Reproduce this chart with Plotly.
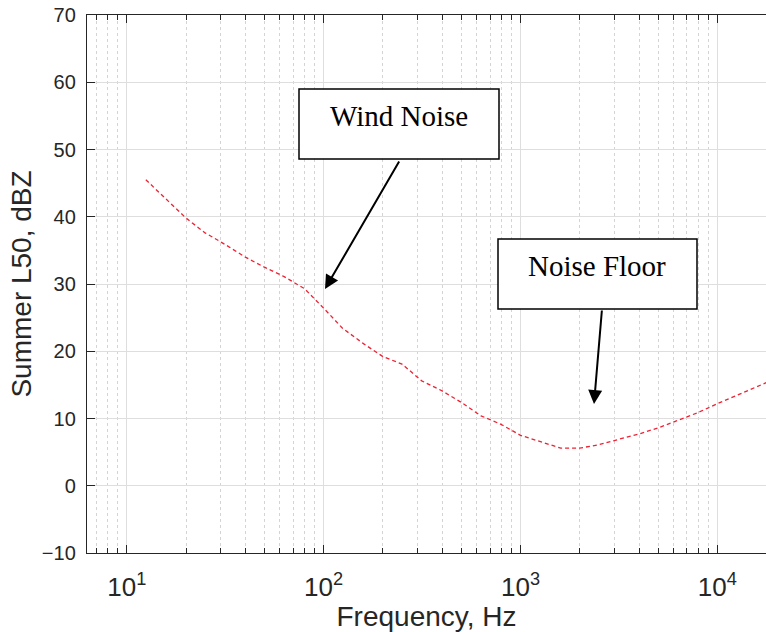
import plotly.graph_objects as go
import numpy as np

# Data (1/3-octave band centre frequencies, Hz) and Summer L50 levels (dBZ)
freq_hz = [12.5, 16, 20, 25, 31.5, 40, 50, 63, 80, 100, 125, 160, 200, 250, 315, 400,
           500, 630, 800, 1000, 1250, 1600, 2000, 2500, 3150, 4000, 5000, 6300, 8000,
           10000, 12500, 16000, 20000]
l50_dbz = [45.5, 42.5, 39.8, 37.6, 35.9, 34.0, 32.5, 31.1, 29.3, 26.4, 23.4, 21.1, 19.2,
           18.1, 15.6, 14.1, 12.4, 10.4, 9.1, 7.5, 6.6, 5.6, 5.6, 6.1, 6.9, 7.7, 8.6,
           9.7, 10.9, 12.2, 13.4, 14.7, 16.0]

x_major_ticks = [10, 100, 1000, 10000]
x_major_labels = ["10<sup>1</sup>", "10<sup>2</sup>", "10<sup>3</sup>", "10<sup>4</sup>"]
x_minor_ticks = [m * 10 ** e for e in range(0, 5) for m in range(2, 10)]

y_range = [-10, 70]
x_range_log = [0.798, 4.247]

W, H = 766, 632
L, R, T, B = 87, 0, 15, 79
pw, ph = W - L - R, H - T - B


def px(xp):
    return (xp - L) / pw


def py(yp):
    return (H - B - yp) / ph


fig = go.Figure()
fig.add_trace(go.Scatter(
    x=freq_hz, y=l50_dbz, mode="lines",
    line=dict(color="#ee2233", width=1.3, dash="4px,3px"),
    showlegend=False,
))

axis_col = "#262626"
fig.update_xaxes(
    type="log", range=x_range_log, automargin=False,
    tickmode="array", tickvals=x_major_ticks, ticktext=x_major_labels,
    ticks="inside", ticklen=8, tickwidth=1, tickcolor=axis_col,
    showline=True, linecolor=axis_col, linewidth=1.4, mirror="ticks",
    showgrid=True, gridcolor="#dedede", gridwidth=1,
    zeroline=False,
    tickfont=dict(family="Liberation Sans, Arial", size=26, color=axis_col),
    ticklabelstandoff=11,
    minor=dict(tickmode="array", tickvals=x_minor_ticks, ticks="inside", ticklen=5,
               tickcolor=axis_col, showgrid=True, gridcolor="#d4d4d4",
               griddash="dot", gridwidth=1),
    title=dict(text="Frequency, Hz", standoff=3,
               font=dict(family="Liberation Sans, Arial", size=28, color=axis_col)),
)
fig.update_yaxes(
    range=y_range, dtick=10, tick0=0, automargin=False,
    ticks="inside", ticklen=8, tickwidth=1, tickcolor=axis_col,
    showline=True, linecolor=axis_col, linewidth=1.4, mirror=False,
    showgrid=True, gridcolor="#dedede", gridwidth=1,
    zeroline=False,
    tickfont=dict(family="Liberation Sans, Arial", size=20, color=axis_col),
    ticklabelstandoff=6,
    title=dict(text="Summer L50, dBZ", standoff=2,
               font=dict(family="Liberation Sans, Arial", size=28, color=axis_col)),
)

# Text boxes
boxes = [
    (299, 89, 499, 159, "Wind Noise", 399, 116),
    (498, 239, 697, 309, "Noise Floor", 597, 266),
]
for x0, y0, x1, y1, txt, tx, ty in boxes:
    fig.add_shape(type="rect", xref="paper", yref="paper",
                  x0=px(x0), x1=px(x1), y0=py(y1), y1=py(y0),
                  line=dict(color="black", width=1.5), fillcolor="white", layer="above")
    fig.add_annotation(xref="paper", yref="paper", x=px(tx), y=py(ty),
                       text=txt, showarrow=False, xanchor="center", yanchor="middle",
                       font=dict(family="Liberation Serif, Times New Roman", size=29,
                                 color="black"))

# Arrows (head position, tail position in px)
arrows = [((325, 289), (400, 160)), ((594, 404), (602, 309))]
for (hx, hy), (tx, ty) in arrows:
    fig.add_annotation(xref="paper", yref="paper", x=px(hx), y=py(hy),
                       ax=tx - hx, ay=ty - hy, axref="pixel", ayref="pixel",
                       text="", showarrow=True, arrowhead=2, arrowsize=1.4,
                       arrowwidth=2, arrowcolor="black")

fig.update_layout(
    width=W, height=H,
    margin=dict(l=L, r=R, t=T, b=B),
    plot_bgcolor="white", paper_bgcolor="white",
    showlegend=False,
)

fig.write_html("out.html")
